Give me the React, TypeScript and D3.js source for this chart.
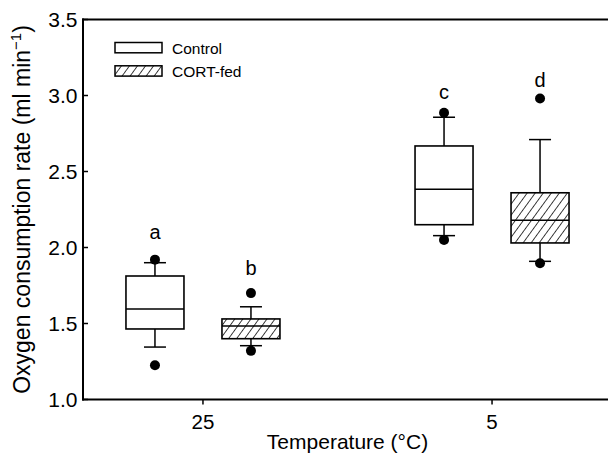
import React from "react";
import * as d3 from "d3";

// Categories and groups
const categories = ["25", "5"];
const groups = ["Control", "CORT-fed"];

// Box order: 25-Control, 25-CORT-fed, 5-Control, 5-CORT-fed
const boxCategory = ["25", "25", "5", "5"];
const boxGroup = ["Control", "CORT-fed", "Control", "CORT-fed"];
const whiskerLow = [1.345, 1.354, 2.078, 1.909];
const q1 = [1.464, 1.4, 2.15, 2.03];
const median = [1.595, 1.484, 2.383, 2.18];
const q3 = [1.8125, 1.53, 2.668, 2.36];
const whiskerHigh = [1.9, 1.61, 2.857, 2.71];
const outlierLow = [1.225, 1.32, 2.05, 1.896];
const outlierHigh = [1.92, 1.7, 2.887, 2.98];
const letters = ["a", "b", "c", "d"];
const letterY = [2.056, 1.819, 2.975, 3.054];

const yTicks = [1.0, 1.5, 2.0, 2.5, 3.0, 3.5];

const W = 608;
const H = 455;
const left = 83;
const right = 612;
const top = 19.5;
const bottom = 399.5;
const font = "'Liberation Sans', Arial, Helvetica, sans-serif";

export default function App() {
  const y = d3.scaleLinear().domain([1, 3.5]).range([bottom, top]);
  const x = d3.scalePoint<string>().domain(categories).range([left, right]).padding(0.415);
  const xg = d3.scalePoint<string>().domain(groups).range([-48, 48]);
  const boxW = 58;
  const capW = 22;

  const boxes = boxCategory.map((c, i) => ({
    cx: (x(c) as number) + (xg(boxGroup[i]) as number),
    hatched: boxGroup[i] === "CORT-fed",
    i,
  }));

  return (
    <svg
      width={W}
      height={H}
      style={{ position: "absolute", left: 0, top: 0, background: "#fff" }}
      fontFamily={font}
    >
      <defs>
        <pattern id="hatch" patternUnits="userSpaceOnUse" width="6.5" height="6.5" patternTransform="rotate(36)">
          <line x1="0" y1="-1" x2="0" y2="7.5" stroke="#000" strokeWidth="1.5" />
        </pattern>
      </defs>
      <rect x={0} y={0} width={W} height={H} fill="#fff" />

      {/* Axes frame */}
      <line x1={left} x2={left} y1={top - 1} y2={bottom + 1} stroke="#000" strokeWidth={2} />
      <line x1={left - 1} x2={right} y1={bottom} y2={bottom} stroke="#000" strokeWidth={2} />
      <line x1={left - 1} x2={right} y1={top} y2={top} stroke="#000" strokeWidth={2} />

      {/* Y ticks */}
      {yTicks.map((t) => (
        <g key={t}>
          <line x1={left} x2={left + 5} y1={y(t)} y2={y(t)} stroke="#000" strokeWidth={1.5} />
          <text
            x={left - 5.5}
            y={y(t)}
            dy="0.36em"
            textAnchor="end"
            fontSize={21}
            fill="#000"
          >
            {t.toFixed(1)}
          </text>
        </g>
      ))}

      {/* X ticks */}
      {categories.map((c) => (
        <g key={c}>
          <line x1={x(c)} x2={x(c)} y1={bottom} y2={bottom + 5} stroke="#000" strokeWidth={1.5} />
          <text x={x(c)} y={429} textAnchor="middle" fontSize={20.5} fill="#000">
            {c}
          </text>
        </g>
      ))}

      {/* Axis titles */}
      <text x={(left + right) / 2} y={449} textAnchor="middle" fontSize={21} fill="#000">
        Temperature (°C)
      </text>
      <text
        transform={`translate(29.5,${(top + bottom) / 2}) rotate(-90)`}
        textAnchor="middle"
        fontSize={23}
        fill="#000"
      >
        Oxygen consumption rate (ml min
        <tspan fontSize={15} dy={-8.5}>−1</tspan>
        <tspan dy={8.5}>)</tspan>
      </text>

      {/* Boxes */}
      {boxes.map(({ cx, hatched, i }) => (
        <g key={i}>
          <line x1={cx} x2={cx} y1={y(whiskerHigh[i])} y2={y(q3[i])} stroke="#000" strokeWidth={1.5} />
          <line x1={cx} x2={cx} y1={y(q1[i])} y2={y(whiskerLow[i])} stroke="#000" strokeWidth={1.5} />
          <line x1={cx - capW / 2} x2={cx + capW / 2} y1={y(whiskerHigh[i])} y2={y(whiskerHigh[i])} stroke="#000" strokeWidth={1.5} />
          <line x1={cx - capW / 2} x2={cx + capW / 2} y1={y(whiskerLow[i])} y2={y(whiskerLow[i])} stroke="#000" strokeWidth={1.5} />
          <rect
            x={cx - boxW / 2}
            y={y(q3[i])}
            width={boxW}
            height={y(q1[i]) - y(q3[i])}
            fill={hatched ? "url(#hatch)" : "#fff"}
            stroke="#000"
            strokeWidth={1.6}
          />
          <line x1={cx - boxW / 2} x2={cx + boxW / 2} y1={y(median[i])} y2={y(median[i])} stroke="#000" strokeWidth={1.5} />
          <circle cx={cx} cy={y(outlierHigh[i])} r={5} fill="#000" />
          <circle cx={cx} cy={y(outlierLow[i])} r={5} fill="#000" />
          <text x={cx} y={y(letterY[i])} textAnchor="middle" fontSize={20} fill="#000">
            {letters[i]}
          </text>
        </g>
      ))}

      {/* Legend */}
      {groups.map((g, k) => (
        <g key={g}>
          <rect
            x={115}
            y={42.5 + k * 23.3}
            width={47}
            height={10.3}
            fill={k === 1 ? "url(#hatch)" : "#fff"}
            stroke="#000"
            strokeWidth={1.5}
          />
          <text x={172} y={53.5 + k * 23.3} fontSize={15.5} fill="#000">
            {g}
          </text>
        </g>
      ))}
    </svg>
  );
}
